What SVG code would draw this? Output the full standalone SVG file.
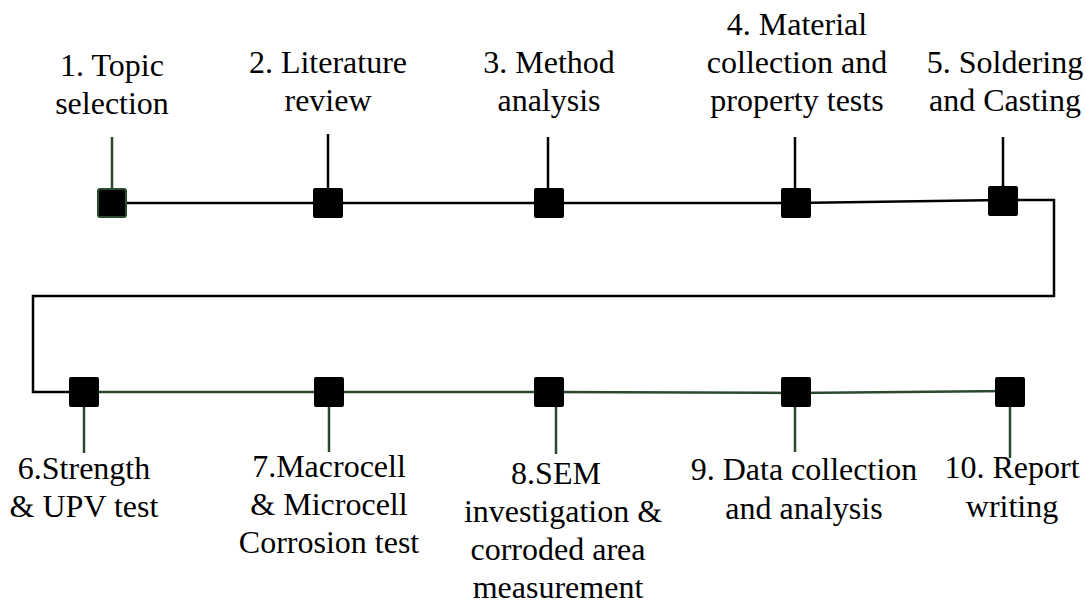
<svg xmlns="http://www.w3.org/2000/svg" width="1086" height="605" viewBox="0 0 1086 605">
<style>
.t{font-family:"Liberation Serif","Times New Roman",serif;font-size:32px;fill:#000;text-anchor:middle}
.k{stroke:#000;stroke-width:2.5;fill:none}
.g{stroke:#2a4a2e;stroke-width:2.5;fill:none}
.sq{fill:#000}
</style>
<rect width="1086" height="605" fill="#fff"/>
<g id="connectors">
<polyline class="k" points="112,203 795,203 1003,200 1054,200 1054,296 33,296 33,392 84,392"/>
<polyline class="g" points="84,392 549,392 796,393 1010,391"/>
</g>
<g id="n1"><line class="g" x1="112" y1="137" x2="112" y2="190"/><rect x="98" y="189" width="28" height="28" rx="2" fill="#000" stroke="#2a4a2e" stroke-width="2"/><text class="t" x="112" y="76">1. Topic</text><text class="t" x="112" y="114">selection</text></g>
<g id="n2"><line class="k" x1="328" y1="134" x2="328" y2="190"/><rect class="sq" x="313" y="188" width="30" height="30" rx="2"/><text class="t" x="328" y="73">2. Literature</text><text class="t" x="328" y="111">review</text></g>
<g id="n3"><line class="k" x1="548" y1="137" x2="548" y2="190"/><rect class="sq" x="534" y="188" width="30" height="30" rx="2"/><text class="t" x="549" y="73">3. Method</text><text class="t" x="549" y="111">analysis</text></g>
<g id="n4"><line class="k" x1="795" y1="137" x2="795" y2="190"/><rect class="sq" x="781" y="188" width="30" height="30" rx="2"/><text class="t" x="797" y="35">4. Material</text><text class="t" x="797" y="73">collection and</text><text class="t" x="797" y="111">property tests</text></g>
<g id="n5"><line class="k" x1="1003" y1="137" x2="1003" y2="188"/><rect class="sq" x="988" y="186" width="30" height="30" rx="2"/><text class="t" x="1005" y="73">5. Soldering</text><text class="t" x="1005" y="111">and Casting</text></g>
<g id="n6"><line class="g" x1="84" y1="405" x2="84" y2="453"/><rect class="sq" x="69" y="377" width="30" height="30" rx="2"/><text class="t" x="84" y="479">6.Strength</text><text class="t" x="84" y="517">&amp; UPV test</text></g>
<g id="n7"><line class="g" x1="329" y1="405" x2="329" y2="452"/><rect class="sq" x="314" y="377" width="30" height="30" rx="2"/><text class="t" x="329" y="477">7.Macrocell</text><text class="t" x="329" y="515">&amp; Microcell</text><text class="t" x="329" y="553">Corrosion test</text></g>
<g id="n8"><line class="g" x1="556" y1="405" x2="556" y2="454"/><rect class="sq" x="534" y="377" width="30" height="30" rx="2"/><text class="t" x="556" y="484">8.SEM</text><text class="t" x="563" y="522">investigation &amp;</text><text class="t" x="558" y="560">corroded area</text><text class="t" x="558" y="598">measurement</text></g>
<g id="n9"><line class="g" x1="795" y1="405" x2="795" y2="452"/><rect class="sq" x="781" y="377" width="30" height="30" rx="2"/><text class="t" x="804" y="480">9. Data collection</text><text class="t" x="804" y="519">and analysis</text></g>
<g id="n10"><line class="g" x1="1010" y1="405" x2="1010" y2="458"/><rect class="sq" x="995" y="377" width="30" height="30" rx="2"/><text class="t" x="1012" y="478">10. Report</text><text class="t" x="1012" y="517">writing</text></g>
</svg>
